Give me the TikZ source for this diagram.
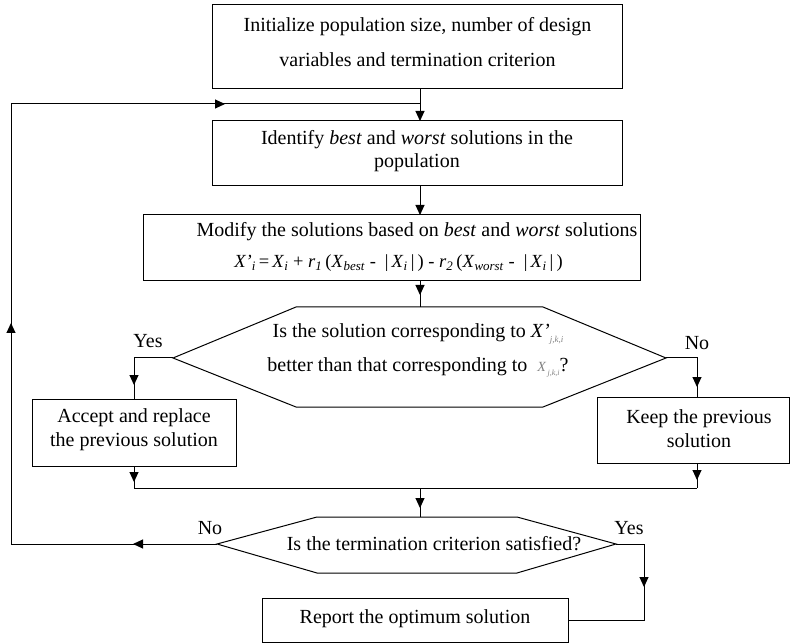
\documentclass[tikz,border=0pt]{standalone}
\usepackage{fontspec}
\setmainfont{Liberation Serif}
\usetikzlibrary{arrows.meta,decorations.markings}
\begin{document}
\begin{tikzpicture}[x=1pt,y=-1pt,>={Triangle[length=10pt,width=9pt]},
  every node/.style={inner sep=0pt,outer sep=0pt},
  frame/.style={draw,line width=1pt},
  txt/.style={align=center,font=\fontsize{20}{#1}\selectfont},
  txt/.default=24,
  wire/.style={line width=1pt},
  marks/.style={postaction={decorate},decoration={markings,#1}}]
\useasboundingbox (0,0) rectangle (790,644);
% helper coordinates
\coordinate (ax) at (420,0);
\coordinate (cx5) at (697,0);
\coordinate (m0) at (420,488);
\coordinate (c1) at (11,544);
\coordinate (c2) at (11,104);
\coordinate (lp) at (420,104);
\coordinate (c3) at (644,544);
% boxes
\node[frame,minimum width=410,minimum height=84] (b1) at (417,47) {};
\node[txt=35] (t1) at (417.5,42.5) {Initialize population size, number of design\\variables and termination criterion};
\node[frame,minimum width=410,minimum height=65] (b2) at (417,153.5) {};
\node[txt=23] (t2) at (417,151.5) {Identify \textit{best} and \textit{worst} solutions in the\\population};
\node[frame,minimum width=497,minimum height=66] (b3) at (391.5,248) {};
\node[txt] (t3a) at (417,232) {Modify the solutions based on \textit{best} and \textit{worst} solutions};
\node[align=center,font=\fontsize{18.5}{22}\selectfont] (t3b) at (398.5,263) {\textit{X'}\textsubscript{\textit{i}}\,=\,\textit{X}\textsubscript{\textit{i}} + \textit{r}\textsubscript{\textit{1}}\,(\textit{X}\textsubscript{\textit{best}} -\hspace{9pt}|\,\textit{X}\textsubscript{\textit{i}}\,|\,) - \textit{r}\textsubscript{\textit{2}}\,(\textit{X}\textsubscript{\textit{worst}} -\hspace{9pt}|\,\textit{X}\textsubscript{\textit{i}}\,|\,)};
% decision 1
\coordinate (h1l) at (173,358);
\coordinate (h1r) at (666,358);
\coordinate (h1t) at (420,307);
\draw[frame] (h1l) -- (296,307) -- (543,307) -- (h1r) -- (543,407) -- (296,407) -- cycle;
\node[txt=34] (q1) at (418,350) {Is the solution corresponding to \textit{X'}\raisebox{-5pt}{\color{gray}\fontsize{9}{9}\selectfont\textit{j,k,i}}\\better than that corresponding to \ {\color{gray}\fontsize{14}{14}\selectfont\textit{X}\raisebox{-4pt}{\fontsize{8}{8}\selectfont\textit{\,j,k,i}}}?};
% branch boxes
\node[frame,minimum width=204,minimum height=67] (b4) at (134,432.5) {};
\node[txt] (t4) at (134,430) {Accept and replace\\the previous solution};
\node[frame,minimum width=192,minimum height=66] (b5) at (693,430) {};
\node[txt] (t5) at (699,428.5) {Keep the previous\\solution};
% decision 2
\coordinate (h2l) at (217,544);
\coordinate (h2r) at (616,544);
\coordinate (h2t) at (420,517);
\draw[frame] (h2l) -- (317,517) -- (517,517) -- (h2r) -- (517,573) -- (317,573) -- cycle;
\node[txt] (q2) at (434,544) {Is the termination criterion satisfied?};
% report
\node[frame,minimum width=306,minimum height=44] (rep) at (415,620) {};
\node[txt] (t6) at (415,619) {Report the optimum solution};
% labels
\node[txt] (y1) at (148,341) {Yes};
\node[txt] (n1) at (697,343) {No};
\node[txt] (n2) at (210,528) {No};
\node[txt] (y2) at (629,528) {Yes};
% connectors
\draw[wire,->] (b1.south -| ax) -- (b2.north -| ax);
\draw[wire,->] (b2.south -| ax) -- (b3.north -| ax);
\draw[wire,marks={mark=at position 14pt with {\arrow{>}}}] (b3.south -| ax) -- (h1t);
\draw[wire,marks={mark=at position 66pt with {\arrow{>}}}] (h1l) -| (b4.north);
\draw[wire,marks={mark=at position 60pt with {\arrow{>}}}] (h1r) -| (b5.north -| cx5);
\draw[wire,marks={mark=at position 16pt with {\arrow{>}}}] (b4.south) -- (b4.south |- m0);
\draw[wire,marks={mark=at position 17pt with {\arrow{>}}}] (b5.south -| cx5) -- (cx5 |- m0);
\draw[wire] (b4.south |- m0) -- (cx5 |- m0);
\draw[wire,marks={mark=at position 20pt with {\arrow{>}}}] (m0) -- (h2t);
\draw[wire,marks={mark=at position 84pt with {\arrow{>}},mark=at position 427pt with {\arrow{>}},mark=at position 860pt with {\arrow{>}}}] (h2l) -- (c1) -- (c2) -- (lp);
\draw[wire,marks={mark=at position 71pt with {\arrow{>}}}] (h2r) -- (c3) -- (c3 |- rep.east) -- (rep.east);
\end{tikzpicture}
\end{document}
